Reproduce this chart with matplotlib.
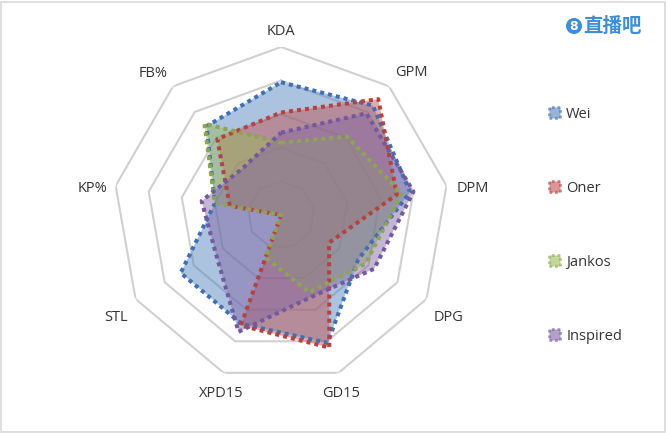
import numpy as np
import matplotlib.pyplot as plt
from matplotlib.patches import Patch, Ellipse, Rectangle

# axes (clockwise from top)
categories = ['KDA', 'GPM', 'DPM', 'DPG', 'GD15', 'XPD15', 'STL', 'KP%', 'FB%']

# values, 0..100 of the outer ring
wei = [79, 85, 78, 53, 81, 69, 69, 40, 69]
oner = [61, 90, 70, 33, 84, 70, 0, 31, 59]
jankos = [43, 61, 73, 58, 49, 27, 0, 40, 71]
inspired = [49, 79, 80, 64, 52, 74, 45, 48, 36]

names = ['Wei', 'Oner', 'Jankos', 'Inspired']
series = [wei, oner, jankos, inspired]
fills = ['#4F81BD', '#C0504D', '#9BBB59', '#8064A2']
edges = ['#3F6FB5', '#B8413E', '#8DA451', '#7458A0']
rings = [20, 40, 60, 80, 100]

fig = plt.figure(figsize=(6.67, 4.33), dpi=100)
ax = fig.add_axes([0.1694, 0.1155, 0.504, 0.776], projection='polar')
ax.set_theta_zero_location('N')
ax.set_theta_direction(-1)

n = len(categories)
ang = np.linspace(0, 2*np.pi, n, endpoint=False)
ang_c = np.append(ang, ang[0])

# nonagon grid
for r in rings:
    ax.plot(ang_c, [r]*(n+1), color='#D0D0D0', lw=1.5, zorder=1)

for vals, fc, ec, nm in zip(series, fills, edges, names):
    v = np.append(vals, vals[0])
    ax.fill(ang_c, v, color=fc, alpha=0.47, lw=0, zorder=2)
    ax.plot(ang_c, v, color=ec, lw=2.9, linestyle=(0, (1, 1)),
            dash_capstyle='butt', zorder=3)

ax.set_ylim(0, 100)
ax.set_yticks([])
ax.set_xticks([])
ax.grid(False)
ax.spines['polar'].set_visible(False)
ax.set_facecolor('none')

# label nudges in pixels (right, down)
nudge = [(0, 1), (9, -3), (6, 2), (5, 4), (-4, -2), (5, -2), (-2, 4), (-3, 2), (-7, -2)]
for a, c, (nx, ny) in zip(ang, categories, nudge):
    ax.annotate(c, (a, 112), xytext=(nx*0.72, -3 - ny*0.72), textcoords='offset points',
                ha='center', va='center', fontsize=10.5, annotation_clip=False,
                family='Open Sans', color='#333333')

# legend
handles = [Patch(facecolor=fc, edgecolor=ec, alpha=0.6, linestyle=(0, (1, 1)),
                 linewidth=2) for fc, ec in zip(fills, edges)]
fig.legend(handles, names, loc='upper left', bbox_to_anchor=(0.804, 0.784),
           frameon=False, handlelength=0.75, handleheight=0.75,
           handletextpad=0.4, labelspacing=4.05,
           prop={'family': 'Open Sans', 'size': 10.5}, labelcolor='#333333')

# logo
fig.patches.append(Ellipse((574/667, 1-26/433), 16/667, 16/433, transform=fig.transFigure,
                           facecolor='#3A8EDB', edgecolor='none'))
fig.text(574/667, 1-26.5/433, '8', ha='center', va='center', color='white',
         fontsize=9, fontweight='bold', family='DejaVu Sans')
fig.text(583/667, 1-26/433, '直播吧', ha='left', va='center', color='#3A8EDB',
         fontsize=14, fontweight='bold', family='Noto Sans CJK SC')

# chart border
fig.patches.append(Rectangle((0.002, 0.003), 0.995, 0.993, transform=fig.transFigure,
                             fill=False, edgecolor='#D9D9D9', lw=1.2))

fig.savefig('out.png', dpi=100)
